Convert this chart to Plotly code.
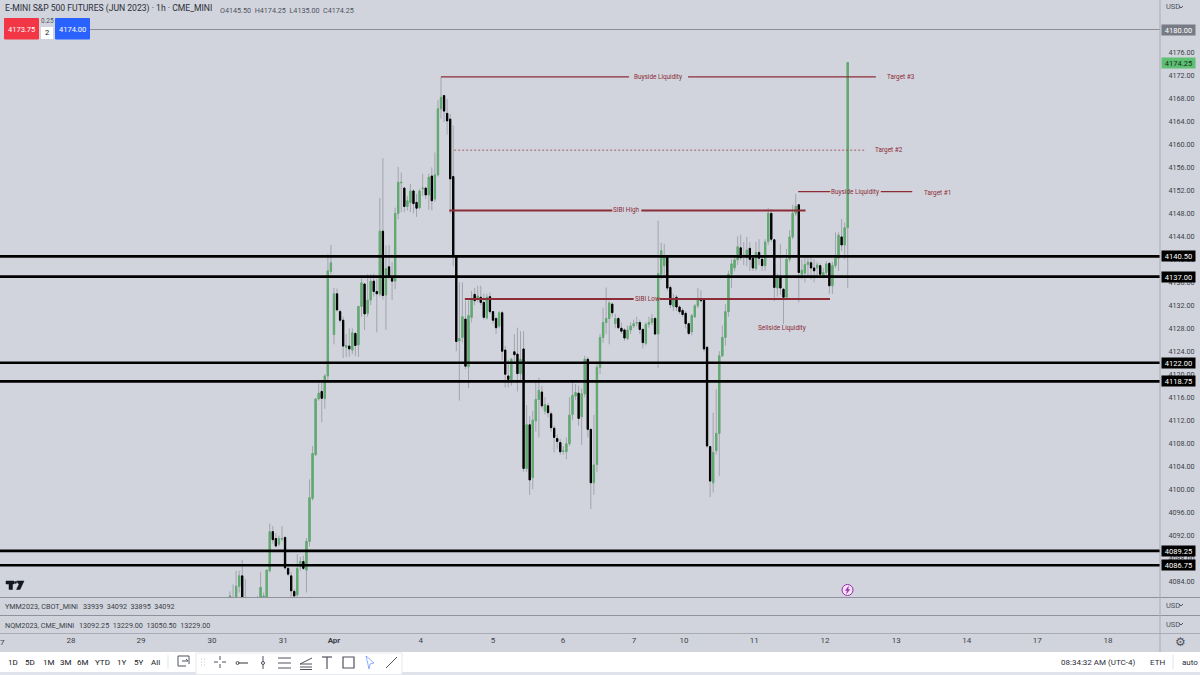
"""E-mini S&P 500 1h chart, rebuilt with Plotly."""
import plotly.graph_objects as go

W, H = 1200, 675
PANE_R = 1160
PANE_B = 597

# first bar sits at 230 px, bars about 3.06 px apart
BAR0_PX = 230.0
BAR_PX = 3.058
# price scale: 4176 sits at this pixel, then px per point
TOP_PX = 52.5
PRICE_PX = 5.745

opens = [
    4080, 4079, 4079, 4083.1, 4084.9, 4079.5, 4078, 4077.5, 4078, 4078.5,
    4080, 4080.5, 4081, 4085.8, 4092.6, 4091.4, 4090.4, 4091.3, 4091.6, 4086.2,
    4084.9, 4082.2, 4081.6, 4086.5, 4087.4, 4085.9, 4090.9, 4098.4, 4106, 4115.7,
    4117, 4115.8, 4119.7, 4137.9, 4126.9, 4134, 4130.9, 4129.4, 4124.7, 4124.9,
    4124.2, 4127.1, 4125.1, 4131.8, 4135.7, 4130.6, 4132.9, 4136.2, 4134.4, 4134,
    4144.9, 4133.8, 4138.7, 4137, 4136.2, 4148, 4153.3, 4152.4, 4149.2, 4149.9,
    4151.9, 4149.9, 4149, 4152.3, 4152.4, 4151.2, 4154.5, 4150.5, 4154.7, 4166.2,
    4168.5, 4165.4, 4164.4, 4154.4, 4140.5, 4125.8, 4126.4, 4129.6, 4121.3, 4129.9,
    4133.9, 4133, 4133.4, 4132.5, 4129.8, 4133.5, 4130.9, 4129.7, 4128.4, 4130.7,
    4124.2, 4119.7, 4119, 4123.9, 4123.5, 4120.1, 4124.4, 4103.6, 4111.2, 4102,
    4111.9, 4115.6, 4116.9, 4113.6, 4114.5, 4113.1, 4110.6, 4108.8, 4108.1, 4106.6,
    4106.5, 4107.9, 4113, 4116.2, 4116.7, 4112.6, 4116.6, 4122.6, 4110.4, 4101.1,
    4104.3, 4121.2, 4126.4, 4129, 4129.7, 4132.2, 4128.8, 4129.7, 4128, 4127.7,
    4126.2, 4127.7, 4128.4, 4128.9, 4129, 4127.8, 4125.4, 4128.7, 4129, 4129.7,
    4127, 4137.4, 4138.9, 4140.5, 4135.1, 4131.8, 4133.4, 4131.7, 4131.1, 4130.6,
    4128.8, 4127.4, 4130, 4131.9, 4133.1, 4132.9, 4124.7, 4107.4, 4101.1, 4106.7,
    4109.7, 4123.2, 4126.4, 4130.9, 4137.4, 4138.5, 4139.9, 4142, 4140.6, 4140.3,
    4141.9, 4140.2, 4138.4, 4141.2, 4140, 4138.9, 4143.1, 4148, 4143.4, 4135,
    4137, 4134.8, 4133.4, 4140, 4143.9, 4148, 4149.5, 4137.4, 4137.6, 4139.1,
    4139.4, 4138.5, 4138.5, 4138.9, 4137.1, 4137.7, 4139.3, 4135.4, 4138.9, 4140.2,
    4143.9, 4142.5, 4145.5,
]
highs = [
    4082.2, 4083.4, 4085.8, 4085.8, 4087.7, 4084.3, 4079, 4079, 4079.5, 4081.4,
    4085.6, 4082, 4086, 4094, 4093.6, 4092.3, 4091.9, 4093.6, 4091.7, 4086.7,
    4085.6, 4082.6, 4088.7, 4088.2, 4088.4, 4091.5, 4101.7, 4107.5, 4115.8, 4118.4,
    4118.8, 4120, 4140.9, 4142.5, 4135, 4134.9, 4131.3, 4130, 4127, 4128,
    4128, 4127.3, 4131.9, 4136.7, 4135.9, 4137.4, 4137.4, 4137.5, 4136.6, 4150.7,
    4157.6, 4142.4, 4142.5, 4139.5, 4149, 4156.1, 4155.1, 4152.5, 4151, 4153.1,
    4152.2, 4151.4, 4152.2, 4154.9, 4152.5, 4154.9, 4156, 4158.6, 4167.7, 4171.7,
    4168.6, 4167.9, 4165.3, 4163.3, 4140.5, 4136, 4136, 4132.8, 4132.8, 4134.5,
    4135, 4135.4, 4135.4, 4134, 4134, 4134.2, 4131, 4130, 4131, 4131,
    4124.9, 4122.5, 4122.8, 4127, 4128.1, 4127.5, 4127.5, 4114.6, 4112.7, 4113.6,
    4118.5, 4119.4, 4118, 4116, 4115, 4113.5, 4111, 4109.5, 4108.7, 4107.5,
    4109, 4116, 4118.5, 4118.3, 4118, 4117.5, 4123.2, 4123, 4110.5, 4112.9,
    4122, 4127, 4131.6, 4135.1, 4132.8, 4132.5, 4130.5, 4130, 4129, 4128,
    4128.5, 4129, 4129.5, 4130, 4129.5, 4128, 4129, 4130, 4130.5, 4130,
    4146.7, 4142.9, 4142.7, 4140.6, 4135.5, 4134, 4133.8, 4132, 4131.5, 4131,
    4129, 4130.5, 4132.2, 4135, 4134.6, 4133, 4124.9, 4107.5, 4113.3, 4117.4,
    4124, 4128.5, 4132.2, 4138, 4140, 4140.7, 4144, 4144.3, 4143, 4143.9,
    4143, 4140.5, 4143, 4143.5, 4140.5, 4143.5, 4148.9, 4148.7, 4143.5, 4137.5,
    4142.7, 4135, 4141.8, 4145.1, 4149.5, 4151.4, 4149.6, 4140, 4140.5, 4140.5,
    4140.5, 4140, 4139.5, 4139.3, 4138.5, 4139.7, 4139.5, 4139.5, 4144.7, 4144.7,
    4147, 4146.4, 4174.25,
]
lows = [
    4079, 4078, 4078, 4082, 4079, 4078, 4077, 4076, 4077, 4078,
    4079, 4080, 4080.5, 4085.5, 4090.5, 4089.8, 4090, 4090.9, 4086, 4084.8,
    4081, 4080.5, 4080.6, 4085.8, 4085.9, 4082, 4090, 4098, 4105.8, 4115.4,
    4111.6, 4114, 4119, 4137.4, 4125.2, 4130.9, 4129, 4122.8, 4123, 4123,
    4123.5, 4123.2, 4123, 4130, 4127.7, 4130, 4132, 4133.5, 4127.3, 4133.5,
    4133, 4127.7, 4136.5, 4132.9, 4134.8, 4147, 4148.2, 4148.2, 4148.5, 4148.2,
    4148, 4147.4, 4148.7, 4151, 4150.5, 4148.6, 4148.5, 4150, 4154.4, 4164.5,
    4163.9, 4161.7, 4148, 4138.8, 4124, 4115.4, 4125.5, 4120.9, 4117.6, 4129,
    4132, 4132.5, 4132, 4129.5, 4129.5, 4130.5, 4128.8, 4127, 4128, 4122.5,
    4117.7, 4117.7, 4118, 4122, 4117, 4119, 4103, 4103, 4099, 4100,
    4110, 4109, 4114, 4113, 4112.5, 4110, 4106.4, 4107, 4106, 4106,
    4105.2, 4107.5, 4112, 4115.5, 4111, 4107.7, 4116, 4109, 4096.5, 4099,
    4103, 4120, 4125.5, 4127, 4125.2, 4130, 4128, 4127.8, 4127, 4125.8,
    4125.9, 4127, 4128, 4128.3, 4127, 4124.5, 4125, 4128, 4128.5, 4126.8,
    4121.1, 4136.5, 4137, 4134.5, 4131.5, 4131, 4131, 4130.5, 4130, 4128,
    4126.8, 4126.8, 4129.8, 4131.5, 4132.5, 4124, 4107.2, 4098.6, 4099.4, 4106,
    4102.3, 4123, 4125, 4130, 4135, 4137.9, 4139, 4139.8, 4139, 4138.8,
    4138, 4138, 4138, 4139, 4138, 4138, 4142.5, 4143, 4132.7, 4133.5,
    4133.8, 4128.7, 4133.2, 4139.5, 4143.5, 4147.5, 4132.5, 4136.5, 4136, 4137,
    4136.5, 4136, 4137, 4137, 4136.7, 4137, 4134, 4134, 4138.5, 4138,
    4141.5, 4140, 4135,
]
closes = [
    4081.4, 4080, 4083.1, 4084.9, 4080, 4079, 4077.5, 4078, 4078.5, 4079.5,
    4082.9, 4081.4, 4085.9, 4092.6, 4091.2, 4090.1, 4091.4, 4091.4, 4086.3, 4085.2,
    4082.3, 4081.4, 4086.2, 4087.4, 4086.2, 4090.9, 4098.5, 4106.2, 4115.7, 4116.7,
    4115.8, 4119.7, 4138, 4139.4, 4134, 4131.2, 4129.4, 4124.9, 4125, 4124.4,
    4127.2, 4125, 4131.8, 4135.9, 4130.5, 4132.9, 4136.2, 4134.4, 4134, 4144.9,
    4133.7, 4138.4, 4137, 4136.2, 4148, 4153.4, 4153.4, 4149.2, 4150.2, 4151.9,
    4149.7, 4148.9, 4151.9, 4152.4, 4151.2, 4154.3, 4150.2, 4154.7, 4166.2, 4168.2,
    4165.8, 4164.1, 4154, 4140.5, 4125.7, 4126.2, 4130, 4121.4, 4130.2, 4132.9,
    4132.8, 4133.6, 4132.5, 4129.9, 4133.4, 4130.9, 4129.4, 4128.1, 4130.7, 4124,
    4120, 4119.1, 4122.6, 4123.4, 4120.1, 4122.6, 4103.6, 4111.2, 4101.6, 4112,
    4115.6, 4117.2, 4114.5, 4114.7, 4113.3, 4110.7, 4109, 4108.3, 4106.5, 4106.7,
    4107.9, 4112.9, 4116.3, 4116.8, 4112.3, 4116.6, 4122.6, 4110.4, 4101.1, 4104.2,
    4121.2, 4126.4, 4129, 4129.7, 4132.4, 4130.7, 4129.7, 4128.1, 4127.5, 4126.3,
    4127.7, 4128.4, 4128.8, 4129, 4127.8, 4125.5, 4128.7, 4129, 4129.7, 4127,
    4137.5, 4141.5, 4140.5, 4135, 4132.1, 4132.9, 4131.7, 4130.9, 4130.4, 4128.8,
    4127.1, 4130.2, 4131.9, 4132.9, 4132.8, 4124.4, 4107.5, 4101.4, 4106.4, 4109.7,
    4123.2, 4126.4, 4130.9, 4137.4, 4139.2, 4139.9, 4142.2, 4140.3, 4140.7, 4141.6,
    4140, 4138.5, 4141.2, 4140.2, 4138.9, 4143, 4148, 4143.5, 4135.1, 4136.9,
    4135, 4133.4, 4140, 4143.9, 4148, 4149.2, 4137.7, 4138.1, 4139.1, 4139.5,
    4138.5, 4138, 4139, 4137.4, 4137.7, 4139.2, 4135.4, 4138.9, 4140.2, 4144.2,
    4142.5, 4145.5, 4174.25,
]

price_ticks = list(range(4084, 4177, 4))

date_labels = ["28", "29", "30", "31", "<b>Apr</b>", "4", "5", "6", "7", "10",
               "11", "12", "13", "14", "17", "18"]
date_bars = [-52, -29.1, -5.9, 17.4, 34, 62.4, 86, 108.9, 132.1, 148.5,
             171.4, 194.6, 217.9, 240.9, 264, 287.1]

level_prices = [4140.5, 4137, 4122, 4118.75, 4089.25, 4086.75]
level_labels = ["4140.50", "4137.00", "4122.00", "4118.75", "4089.25", "4086.75"]

# red drawings: price, then [start, end] in bars for each piece
buyside_top = (4171.75, [[69, 130.5], [149.8, 211.2]])
target2_line = (4159, [[73.3, 208]])
sibi_high = (4148.5, [[71.7, 125], [134.5, 188.2]])
sibi_low = (4133.1, [[76.8, 132], [140.5, 196.2]])
buyside_low = (4151.8, [[185.8, 196.3], [212.8, 223.1]])

note_texts = ["Buyside Liquidity", "Target #3", "Target #2", "SIBI High", "SIBI Low",
              "Buyside Liquidity", "Target #1", "Sellside Liquidity"]
note_bars = [139.9, 219.5, 215.5, 129.7, 136.5, 204.5, 231.5, 180.5]
note_prices = [4171.75, 4171.75, 4159, 4148.5, 4133.1, 4151.8, 4151.6, 4128.1]

BG = "#d1d4dc"
GREEN = "#5fab6f"
WICK = "#a3a5ae"
RED = "#8c2c36"
TXT = "#3c3f48"
SEP = "#8f929b"
FONT = "Roboto"


def fx(px):
    return px / W


def fy(py):
    return 1 - py / H


def bars_x(px):
    return (px - BAR0_PX) / BAR_PX


x = list(range(len(opens)))
fig = go.Figure()

# wicks first, in gray, bodies go over them
fig.add_trace(go.Candlestick(
    x=x, open=opens, high=highs, low=lows, close=closes,
    increasing=dict(line=dict(color=WICK, width=1), fillcolor=WICK),
    decreasing=dict(line=dict(color=WICK, width=1), fillcolor=WICK),
    whiskerwidth=0, hoverinfo="skip",
))
fig.add_trace(go.Candlestick(
    x=x, open=opens, close=closes,
    high=[max(o, c) for o, c in zip(opens, closes)],
    low=[min(o, c) for o, c in zip(opens, closes)],
    increasing=dict(line=dict(color=GREEN, width=1), fillcolor=GREEN),
    decreasing=dict(line=dict(color="#000000", width=1), fillcolor="#000000"),
    whiskerwidth=0, hoverinfo="skip",
))


def add_drawing(drawing, width=1.2, dash="solid", color=RED):
    price, pieces = drawing
    for start, end in pieces:
        fig.add_trace(go.Scatter(
            x=[start, end], y=[price, price], mode="lines",
            line=dict(color=color, width=width, dash=dash), hoverinfo="skip",
        ))


add_drawing(buyside_top)
add_drawing(target2_line, width=0.9, dash="2px,2px", color="#a0505a")
add_drawing(sibi_high, width=2)
add_drawing(sibi_low, width=2)
add_drawing(buyside_low)

for price in level_prices:
    fig.add_trace(go.Scatter(
        x=[bars_x(0), bars_x(PANE_R)], y=[price, price], mode="lines",
        line=dict(color="#000000", width=2.7), hoverinfo="skip",
    ))
fig.add_trace(go.Scatter(
    x=[bars_x(90), bars_x(PANE_R)], y=[4180, 4180], mode="lines",
    line=dict(color="#8b8e98", width=1.2), hoverinfo="skip",
))

shapes = []
annotations = []


def rect(x0, y0, x1, y1, fill, line=None, w=1):
    shapes.append(dict(type="rect", xref="paper", yref="paper",
                       x0=fx(x0), x1=fx(x1), y0=fy(y0), y1=fy(y1), fillcolor=fill,
                       line=dict(color=line or fill, width=w if line else 0)))


def seg(x0, y0, x1, y1, color=TXT, w=1):
    shapes.append(dict(type="line", xref="paper", yref="paper",
                       x0=fx(x0), x1=fx(x1), y0=fy(y0), y1=fy(y1),
                       line=dict(color=color, width=w)))


def poly(points, fill, line=None):
    d = "M " + " L ".join(f"{fx(a):.5f},{fy(b):.5f}" for a, b in points) + " Z"
    shapes.append(dict(type="path", xref="paper", yref="paper", path=d,
                       fillcolor=fill, line=dict(color=line or fill, width=0.5)))


def label(px, py, text, size=8, color=TXT, anchor="left", family=FONT):
    annotations.append(dict(xref="paper", yref="paper", x=fx(px), y=fy(py), text=text,
                            showarrow=False, xanchor=anchor, yanchor="middle",
                            font=dict(size=size, color=color, family=family),
                            borderpad=0, borderwidth=0))


def tag(py_price, text, fill, color="#ffffff"):
    annotations.append(dict(xref="paper", yref="y", x=fx(1161), y=py_price, text=text,
                            showarrow=False, xanchor="left", yanchor="middle",
                            width=33, height=10, align="center", bgcolor=fill,
                            font=dict(size=7.5, color=color, family=FONT), borderpad=0))


# red notes on the chart
for text, bar, price in zip(note_texts, note_bars, note_prices):
    annotations.append(dict(x=bar, y=price, xref="x", yref="y", text=text, showarrow=False,
                            font=dict(size=6.4, color=RED, family=FONT)))

# price scale tags
for price, text in zip(level_prices, level_labels):
    tag(price, text, "#000000")
tag(4180, "4180.00", "#787b86")
tag(4174.25, "4174.25", "#5fbf73", "#10331a")

# pane separators
seg(0, 597.5, PANE_R + 40, 597.5, SEP, 1.2)
seg(0, 615.5, PANE_R + 40, 615.5, SEP, 1.2)
seg(0, 633.5, PANE_R + 40, 633.5, "#a9acb5", 1)
seg(PANE_R, 0, PANE_R, 652, "#a9acb5", 1)

# bottom bar
rect(0, 652, W, 672, "#ffffff")
rect(0, 672, W, H, "#e0e3eb")
rect(196, 653, 402, 674.5, "#ffffff", "#e6e8ee", 1)

# header
label(5, 9, "E-MINI S&amp;P 500 FUTURES (JUN 2023) · 1h · CME_MINI", 8.6, "#2a2e39")
label(220, 10, "O4145.50&#160;&#160;H4174.25&#160;&#160;L4135.00&#160;&#160;C4174.25", 7.2, "#50535e")

# bid and ask
rect(4.5, 18.5, 38.5, 39, "#f23645", "#f23645", 1)
rect(55.5, 18.5, 89.5, 39, "#2962ff", "#2962ff", 1)
rect(41, 27, 53, 39, "#ffffff")
label(21.5, 29, "4173.75", 7.5, "#ffffff", "center")
label(72.5, 29, "4174.00", 7.5, "#ffffff", "center")
label(47, 21.5, "0.25", 6.5, "#50535e", "center")
label(47, 33, "2", 7.5, "#131722", "center")

# USD menus
for py in [7, 605, 624]:
    label(1166, py, "USD", 7.5, "#50535e")
    seg(1179, py - 1, 1181, py + 1, "#50535e", 1)
    seg(1181, py + 1, 1183, py - 1, "#50535e", 1)

# side panes
label(5, 606.5, "YMM2023, CBOT_MINI", 7.2, "#3c3f48")
label(83, 606.5, "33939&#160;&#160;34092&#160;&#160;33895&#160;&#160;34092", 7.2, "#3c3f48")
label(5, 625.5, "NQM2023, CME_MINI", 7.2, "#3c3f48")
label(79, 625.5, "13092.25&#160;&#160;13229.00&#160;&#160;13050.50&#160;&#160;13229.00", 7.2, "#3c3f48")
label(2, 642, "7", 8, "#3c3f48", "center")

# logo
poly([(6, 581), (14, 581), (14, 584), (12.5, 584), (12.5, 589.5), (9, 589.5), (9, 584), (6, 584)], "#131722")
poly([(16.5, 581), (24, 581), (20, 589.5), (16.5, 589.5), (19, 584.5)], "#131722")
shapes.append(dict(type="circle", xref="paper", yref="paper", x0=fx(14.2), x1=fx(16.8),
                   y0=fy(583.8), y1=fy(581.2), fillcolor="#131722", line=dict(width=0)))

# lightning badge
shapes.append(dict(type="circle", xref="paper", yref="paper", x0=fx(842), x1=fx(853),
                   y0=fy(595.5), y1=fy(584.5), fillcolor="#f3e5f5",
                   line=dict(color="#9c27b0", width=1)))
poly([(848.5, 586.5), (845.5, 590.5), (847.5, 590.5), (846.5, 593.5), (849.8, 589.5), (847.8, 589.5)], "#9c27b0")

# period buttons
for px, text in zip([13, 30, 48, 65, 82, 102, 121, 138, 155],
                    ["1D", "5D", "1M", "3M", "6M", "YTD", "1Y", "5Y", "All"]):
    label(px, 662, text, 8, "#131722", "center")
seg(168, 655, 168, 669, "#e0e3eb")

# replay icon
seg(178, 656, 189, 656, "#50535e")
seg(178, 656, 178, 666, "#50535e")
seg(178, 666, 186, 666, "#50535e")
seg(189, 656, 189, 664, "#50535e")
seg(182, 661, 188, 661, "#50535e")
seg(188, 661, 186, 659, "#50535e")

# drawing toolbar
for dx in [201, 204]:
    for dy in [659, 662, 665]:
        seg(dx, dy, dx + 1, dy, "#c2c4cc", 1)
ICON = "#4f525c"
seg(214, 662, 218, 662, ICON)
seg(222, 662, 226, 662, ICON)
seg(220, 656, 220, 660, ICON)
seg(220, 664, 220, 668, ICON)
seg(238, 663, 248, 663, ICON, 1.2)
shapes.append(dict(type="circle", xref="paper", yref="paper", x0=fx(236), x1=fx(239),
                   y0=fy(664.5), y1=fy(661.5), line=dict(color=ICON, width=1)))
seg(263, 656, 263, 669, ICON)
shapes.append(dict(type="circle", xref="paper", yref="paper", x0=fx(261.5), x1=fx(264.5),
                   y0=fy(664.5), y1=fy(661.5), fillcolor="#ffffff", line=dict(color=ICON, width=1)))
for py in [658, 663, 668]:
    seg(278, py, 291, py, ICON)
seg(300, 664, 312, 658, ICON)
seg(300, 664, 312, 664, ICON)
seg(300, 667, 312, 667, ICON)
seg(300, 669.5, 312, 669.5, ICON)
seg(322, 657, 332, 657, ICON, 1.2)
seg(327, 657, 327, 669, ICON, 1.2)
shapes.append(dict(type="rect", xref="paper", yref="paper", x0=fx(343), x1=fx(354),
                   y0=fy(668), y1=fy(657), line=dict(color=ICON, width=1.2)))
poly([(366, 656), (374, 663), (370, 664), (369, 669)], "#ffffff", "#2962ff")
seg(386, 668, 397, 657, ICON)

# time zone and session
label(1136, 662, "08:34:32 AM (UTC-4)", 8, "#2a2e39", "right")
label(1157, 662, "ETH", 8, "#2a2e39", "center")
seg(1173, 655, 1173, 669, "#e0e3eb")
label(1190, 662, "auto", 8, "#2a2e39", "center")
label(1180, 642, "⚙", 12, "#50535e", "center", "DejaVu Sans")

fig.update_layout(
    width=W, height=H, margin=dict(l=0, r=0, t=0, b=0),
    paper_bgcolor=BG, plot_bgcolor=BG, showlegend=False, hovermode=False,
    boxmode="overlay", boxgap=0.4,
    shapes=shapes, annotations=annotations,
    xaxis=dict(
        domain=[0, fx(PANE_R)], range=[bars_x(0), bars_x(PANE_R)], rangeslider=dict(visible=False),
        showgrid=False, zeroline=False, anchor="free", position=fy(634), tickmode="array",
        tickvals=date_bars, ticktext=date_labels, ticks="", ticklen=0,
        tickfont=dict(size=8, color="#3c3f48", family=FONT),
    ),
    yaxis=dict(
        domain=[fy(PANE_B), 1],
        range=[4176 - (PANE_B - TOP_PX) / PRICE_PX, 4176 + TOP_PX / PRICE_PX],
        showgrid=False, zeroline=False, side="right", anchor="free", position=fx(PANE_R),
        tickmode="array", tickvals=price_ticks, ticktext=[f"{p:.2f}" for p in price_ticks],
        ticks="outside", ticklen=6, tickcolor="rgba(0,0,0,0)",
        tickfont=dict(size=7.2, color="#3c3f48", family=FONT),
    ),
)

fig.write_html("out.html", config={"displayModeBar": False},
               post_script="document.body.style.margin='0'")
